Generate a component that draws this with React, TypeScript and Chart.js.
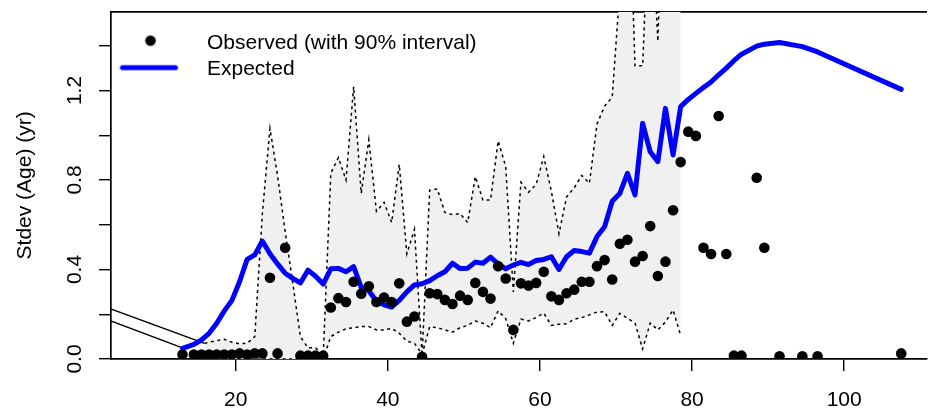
import React, { useEffect, useRef } from 'react';
import { Chart, registerables } from 'chart.js';

Chart.register(...registerables);

// ---------- data ----------
const obsAge = [13.0, 14.5, 15.5, 16.5, 17.5, 18.5, 19.5, 20.5, 21.5, 22.5, 23.5, 24.5, 25.5, 26.5, 28.5, 29.5, 30.5, 31.5,
  32.5, 33.5, 34.5, 35.5, 36.5, 37.5, 38.5, 39.5, 40.5, 41.5, 42.5, 43.5, 44.5, 45.5, 46.5, 47.5, 48.5, 49.5, 50.5,
  51.5, 52.5, 53.5, 54.5, 55.5, 56.5, 57.5, 58.5, 59.5, 60.5, 61.5, 62.5, 63.5, 64.5, 65.5, 66.5, 67.5, 68.5, 69.5,
  70.5, 71.5, 72.5, 73.5, 74.5, 75.5, 76.5, 77.5, 78.5, 79.5, 80.5, 81.5, 82.5, 83.5, 84.5, 85.5, 86.5, 88.5, 89.5,
  91.5, 94.5, 96.5, 107.5];
const obsVal = [0.02, 0.02, 0.02, 0.02, 0.02, 0.02, 0.02, 0.025, 0.02, 0.025, 0.025, 0.363, 0.025, 0.497, 0.015, 0.015, 0.015, 0.015,
  0.23, 0.272, 0.255, 0.345, 0.292, 0.325, 0.255, 0.275, 0.255, 0.338, 0.167, 0.19, 0.01, 0.294, 0.29, 0.264, 0.246, 0.283, 0.264,
  0.34, 0.30, 0.27, 0.415, 0.36, 0.13, 0.338, 0.328, 0.34, 0.39, 0.28, 0.264, 0.294, 0.31, 0.345, 0.345, 0.415, 0.442, 0.355,
  0.515, 0.533, 0.435, 0.46, 0.594, 0.371, 0.435, 0.665, 0.88, 1.016, 0.997, 0.497, 0.469, 1.086, 0.469, 0.015, 0.015, 0.81, 0.497,
  0.012, 0.012, 0.012, 0.025];

const expAge = [13.0, 14.5, 15.5, 16.5, 17.5, 18.5, 19.5, 20.5, 21.5, 22.5, 23.5, 24.5, 25.5, 26.5, 27.5, 28.5, 29.5, 30.5, 31.5,
  32.5, 33.5, 34.5, 35.5, 36.5, 37.5, 38.5, 39.5, 40.5, 41.5, 42.5, 43.5, 44.5, 45.5, 46.5, 47.5, 48.5, 49.5, 50.5,
  51.5, 52.5, 53.5, 54.5, 55.5, 56.5, 57.5, 58.5, 59.5, 60.5, 61.5, 62.5, 63.5, 64.5, 65.5, 66.5, 67.5, 68.5, 69.5,
  70.5, 71.5, 72.5, 73.5, 74.5, 75.5, 76.5, 77.5, 78.5, 79.5, 80.5, 81.5, 82.5, 83.5, 84.5, 85.5, 86.5, 88.5, 89.5,
  91.5, 94.5, 96.5, 107.5];
const expVal = [0.048, 0.065, 0.085, 0.115, 0.16, 0.215, 0.262, 0.345, 0.445, 0.465, 0.527, 0.47, 0.425, 0.383, 0.36, 0.34, 0.397, 0.37, 0.335,
  0.403, 0.405, 0.39, 0.413, 0.32, 0.305, 0.258, 0.242, 0.232, 0.262, 0.30, 0.331, 0.336, 0.35, 0.372, 0.39, 0.428, 0.404, 0.406,
  0.433, 0.428, 0.455, 0.425, 0.403, 0.42, 0.432, 0.422, 0.44, 0.445, 0.457, 0.40, 0.457, 0.485, 0.48, 0.473, 0.547, 0.591, 0.705,
  0.74, 0.83, 0.733, 1.053, 0.926, 0.882, 1.12, 0.912, 1.128, 1.16, 1.187, 1.213, 1.238, 1.27, 1.30, 1.333, 1.362, 1.398, 1.407,
  1.414, 1.396, 1.372, 1.205];

const intAge = [15.9, 16.5, 17.5, 18.5, 19.5, 20.5, 21.5, 22.5, 23.5, 24.5, 25.5, 26.5, 27.5, 28.5, 29.5, 30.5, 31.5,
  32.5, 33.5, 34.5, 35.5, 36.5, 37.5, 38.5, 39.5, 40.5, 41.5, 42.5, 43.5, 44.5, 45.5, 46.5, 47.5, 48.5, 49.5, 50.5,
  51.5, 52.5, 53.5, 54.5, 55.5, 56.5, 57.5, 58.5, 59.5, 60.5, 61.5, 62.5, 63.5, 64.5, 65.5, 66.5, 67.5, 68.5, 69.5,
  70.5, 71.5, 72.5, 73.5, 74.5, 75.5, 76.5, 77.5, 78.5];
const intUpper = [0.07, 0.075, 0.082, 0.088, 0.075, 0.068, 0.07, 0.10, 0.65, 1.03, 0.82, 0.57, 0.34, 0.10, 0.05, 0.05, 0.015,
  0.83, 0.90, 0.80, 1.217, 0.74, 0.98, 0.66, 0.70, 0.61, 0.87, 0.47, 0.58, 0.015, 0.755, 0.76, 0.655, 0.645, 0.65, 0.61,
  0.815, 0.71, 0.71, 0.975, 0.86, 0.30, 0.79, 0.745, 0.78, 0.905, 0.75, 0.56, 0.725, 0.765, 0.82, 0.785, 1.05, 1.13, 1.17,
  1.65, 2.35, 1.31, 1.31, 2.15, 1.42, 2.4, 2.4, 2.0];
const intLower = [0, 0, 0, 0, 0, 0, 0, 0, 0, 0, 0, 0, 0, 0, 0, 0, 0,
  0.10, 0.12, 0.135, 0.14, 0.145, 0.145, 0.13, 0.13, 0.137, 0.115, 0.08, 0.07, 0.02, 0.144, 0.14, 0.13, 0.12, 0.14, 0.15,
  0.17, 0.16, 0.14, 0.215, 0.18, 0.07, 0.178, 0.17, 0.185, 0.205, 0.15, 0.155, 0.157, 0.178, 0.185, 0.197, 0.21, 0.211, 0.15,
  0.204, 0.182, 0.16, 0.045, 0.16, 0.13, 0.165, 0.219, 0.105];

const guideAX = [0, 15.9];
const guideAY = [0.268, 0.07];
const guideBX = [0, 13.0];
const guideBY = [0.215, 0.05];

const xTickValues = [20, 40, 60, 80, 100];
const yTickValues = [0, 0.2, 0.4, 0.6, 0.8, 1.0, 1.2, 1.4];
const yTickLabels = ['0.0', '', '0.4', '', '0.8', '', '1.2', ''];
const seriesLabels = ['Observed (with 90% interval)', 'Expected', 'Upper 90%', 'Lower 90%', 'a', 'b'];
const yTitle = 'Stdev (Age) (yr)';

const X_MIN = 3.6;
const X_MAX = 110.85;
const Y_MIN = 0;
const Y_MAX = 1.552;

const FONT = "'Liberation Sans', Arial, Helvetica, sans-serif";

const zip = (xs: number[], ys: number[]) => xs.map((x, i) => ({ x, y: ys[i] }));

function makeDotImg() {
  const c = document.createElement('canvas');
  c.width = 81; c.height = 20;
  const g = c.getContext('2d')!;
  g.fillStyle = '#000';
  g.beginPath();
  g.arc(34.75, 7.3, 5.3, 0, Math.PI * 2);
  g.fill();
  return c;
}
function makeLineImg() {
  const c = document.createElement('canvas');
  c.width = 81; c.height = 20;
  const g = c.getContext('2d')!;
  g.strokeStyle = '#0000FF';
  g.lineWidth = 5;
  g.lineCap = 'round';
  g.beginPath();
  g.moveTo(6.75, 8.3);
  g.lineTo(59.75, 8.3);
  g.stroke();
  return c;
}

export default function App() {
  const ref = useRef<HTMLCanvasElement | null>(null);

  useEffect(() => {
    if (!ref.current) return;
    Chart.defaults.font.family = FONT;
    Chart.defaults.color = '#000';
    const dotImg = makeDotImg();
    const lineImg = makeLineImg();

    const tickGrid = { display: true, drawOnChartArea: false, drawTicks: true, tickLength: 12, color: '#000', lineWidth: 1.4 };
    const border = { display: true, color: '#000', width: 1.7 };
    const zeroPad = (s: any) => { s.paddingTop = 0; s.paddingBottom = 0; s.paddingLeft = 0; s.paddingRight = 0; };

    const chart = new Chart(ref.current, {
      type: 'line',
      data: {
        datasets: [
          {
            label: seriesLabels[0],
            data: zip(obsAge, obsVal),
            showLine: false,
            pointRadius: 5.3,
            pointBorderWidth: 0,
            pointBackgroundColor: '#000',
            borderColor: '#000',
            backgroundColor: '#000',
          },
          {
            label: seriesLabels[1],
            data: zip(expAge, expVal),
            borderColor: '#0000FF',
            backgroundColor: '#0000FF',
            borderWidth: 5,
            borderCapStyle: 'round',
            borderJoinStyle: 'round',
            pointRadius: 0,
            tension: 0,
          },
          {
            label: seriesLabels[2],
            data: zip(intAge, intUpper),
            borderColor: '#000',
            borderWidth: 1.5,
            borderDash: [3, 3.5],
            pointRadius: 0,
            fill: '+1',
            backgroundColor: '#F0F0F0',
          },
          {
            label: seriesLabels[3],
            data: zip(intAge, intLower),
            borderColor: '#000',
            borderWidth: 1.5,
            borderDash: [3, 3.5],
            pointRadius: 0,
            fill: false,
          },
          {
            label: seriesLabels[4],
            data: zip(guideAX, guideAY),
            borderColor: '#000',
            borderWidth: 1.4,
            pointRadius: 0,
            fill: false,
          },
          {
            label: seriesLabels[5],
            data: zip(guideBX, guideBY),
            borderColor: '#000',
            borderWidth: 1.4,
            pointRadius: 0,
            fill: false,
          },
        ],
      } as any,
      options: {
        responsive: false,
        animation: false,
        devicePixelRatio: 1,
        events: [],
        layout: { padding: { top: 11.7, left: 0, right: 0, bottom: 0 } },
        plugins: {
          tooltip: { enabled: false },
          filler: { drawTime: 'beforeDatasetsDraw' },
          legend: {
            display: true,
            position: 'chartArea',
            align: 'start',
            title: { display: true, text: '', font: { size: 10, lineHeight: 1 }, padding: { top: 17.9, bottom: 0 } },
            labels: {
              usePointStyle: true,
              pointStyleWidth: 80.5,
              padding: 5,
              color: '#000',
              font: { size: 21, family: FONT },
              generateLabels: (ch: any) => {
                const base = (Chart.defaults.plugins.legend.labels as any).generateLabels(ch).filter((l: any) => l.datasetIndex < 2);
                base[0].pointStyle = dotImg;
                base[1].pointStyle = lineImg;
                return base;
              },
            },
          },
        } as any,
        scales: {
          x: {
            type: 'linear',
            position: 'bottom',
            min: X_MIN,
            max: X_MAX,
            afterBuildTicks: (s: any) => { s.ticks = xTickValues.map((v) => ({ value: v })); },
            afterFit: (s: any) => { s.height = 52; zeroPad(s); },
            ticks: { font: { size: 21 }, color: '#000', padding: 16.5, maxRotation: 0, minRotation: 0, callback: (v: any) => String(v) },
            grid: tickGrid,
            border,
          },
          x2: {
            type: 'linear',
            position: 'top',
            display: true,
            min: 0,
            max: 1,
            ticks: { display: false },
            grid: { display: false, drawTicks: false },
            border,
            afterFit: (s: any) => { s.height = 0; zeroPad(s); },
          },
          y: {
            type: 'linear',
            position: 'left',
            min: Y_MIN,
            max: Y_MAX,
            afterBuildTicks: (s: any) => { s.ticks = yTickValues.map((v) => ({ value: v })); },
            afterFit: (s: any) => { s.width = 111; zeroPad(s); },
            ticks: {
              font: { size: 21 },
              color: '#000',
              padding: 9.4,
              minRotation: 90,
              maxRotation: 90,
              crossAlign: 'center',
              callback: (_v: any, i: number) => yTickLabels[i],
            },
            title: { display: true, text: yTitle, font: { size: 21 }, color: '#000', padding: { top: 13.1, bottom: 0 } },
            grid: tickGrid,
            border,
          },
        } as any,
      },
    });
    return () => chart.destroy();
  }, []);

  return (
    <div style={{ position: 'fixed', left: 0, top: 0, width: 932, height: 411, background: '#fff' }}>
      <canvas ref={ref} width={932} height={411} style={{ display: 'block' }} />
    </div>
  );
}
